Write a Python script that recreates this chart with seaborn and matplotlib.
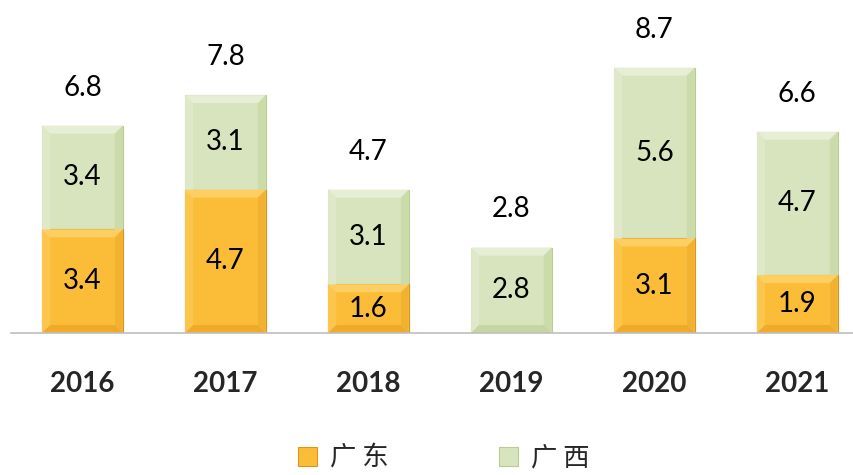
import matplotlib
matplotlib.use("Agg")
import matplotlib.pyplot as plt
import seaborn as sns
import pandas as pd
from matplotlib.patches import Polygon, Patch

years = ["2016", "2017", "2018", "2019", "2020", "2021"]
guangdong = [3.4, 4.7, 1.6, 0.0, 3.1, 1.9]
guangxi = [3.4, 3.1, 3.1, 2.8, 5.6, 4.7]
totals = [6.8, 7.8, 4.7, 2.8, 8.7, 6.6]
series_names = ["广东", "广西"]

sns.set_theme(style="white")
plt.rcParams["font.family"] = ["Lato", "Noto Sans CJK SC", "DejaVu Sans"]

W, H = 854, 475
fig = plt.figure(figsize=(W / 100, H / 100), dpi=100)
ax_left, ax_bottom_px, ax_right = 11, 333, 866
ax = fig.add_axes([ax_left / W, 1 - ax_bottom_px / H, (ax_right - ax_left) / W, ax_bottom_px / H])

df = pd.DataFrame({"year": years, "gd": guangdong, "gx": guangxi, "total": totals})

orange = "#FBBD38"
green = "#D7E4BD"
sns.barplot(data=df, x="year", y="total", color=green, saturation=1, width=0.565,
            edgecolor="#B9CC90", linewidth=0.8, ax=ax)
n_green = len(ax.patches)
sns.barplot(data=df, x="year", y="gd", color=orange, saturation=1, width=0.565,
            edgecolor="#D8971A", linewidth=0.8, ax=ax)

ax.set_xlim(-0.5, 5.48)
ax.set_ylim(0, 10.92)

# bevel decoration derived from each bar's geometry
px_x = (ax_right - ax_left) / (5.98)
px_y = ax_bottom_px / 10.92
bev = 8
bevel_cols = {
    "g": dict(top="#E6EED5", left="#DFE9C9", right="#CCDBAA", bot="#C6D6A1"),
    "o": dict(top="#FDCF62", left="#FCC54C", right="#F2B230", bot="#EEAA28"),
}
for i, p in enumerate(ax.patches):
    h = p.get_height()
    if h <= 0:
        continue
    kind = "g" if i < n_green else "o"
    x0, y0 = p.get_x(), p.get_y()
    x1, y1 = x0 + p.get_width(), y0 + h
    dx, dy = bev / px_x, bev / px_y
    ix0, ix1, iy0, iy1 = x0 + dx, x1 - dx, y0 + dy, y1 - dy
    c = bevel_cols[kind]
    for pts, col in [
        ([(x0, y1), (x1, y1), (ix1, iy1), (ix0, iy1)], c["top"]),
        ([(x0, y0), (x0, y1), (ix0, iy1), (ix0, iy0)], c["left"]),
        ([(x1, y0), (x1, y1), (ix1, iy1), (ix1, iy0)], c["right"]),
        ([(x0, y0), (x1, y0), (ix1, iy0), (ix0, iy0)], c["bot"]),
    ]:
        ax.add_patch(Polygon(pts, closed=True, facecolor=col, edgecolor="none", zorder=p.get_zorder() + 0.1))

# value labels
fs = 20
for i in range(len(years)):
    g = guangdong[i]
    x = guangxi[i]
    if g > 0:
        ax.text(i, g / 2, f"{g:.1f}", ha="center", va="center", fontsize=fs, color="black", zorder=5)
    ax.text(i, g + x / 2, f"{x:.1f}", ha="center", va="center", fontsize=fs, color="black", zorder=5)
    ax.text(i, totals[i] + 1.25, f"{totals[i]:.1f}", ha="center", va="center", fontsize=fs, color="black", zorder=5)

sns.despine(ax=ax, left=True, top=True, right=True, bottom=False)
ax.spines["bottom"].set_color("#BFBFBF")
ax.spines["bottom"].set_linewidth(1.2)
ax.set_yticks([])
ax.set_xlabel("")
ax.set_ylabel("")
ax.tick_params(axis="x", length=0, pad=27)
ax.set_xticks(range(len(years)))
ax.set_xticklabels(years, fontsize=20, fontweight="bold")

handles = [Patch(facecolor=orange, edgecolor="#D8971A", linewidth=0.8),
           Patch(facecolor=green, edgecolor="#B9CC90", linewidth=0.8)]
fig.legend(handles, [" ".join(s) for s in series_names], loc="center", bbox_to_anchor=(0.52, 0.035), ncol=2,
           frameon=False, handlelength=0.7, handleheight=0.7,
           handletextpad=0.5, columnspacing=4.2,
           prop={"family": ["Noto Sans CJK SC", "DejaVu Sans"], "size": 19})

fig.savefig("out.png", dpi=100)
